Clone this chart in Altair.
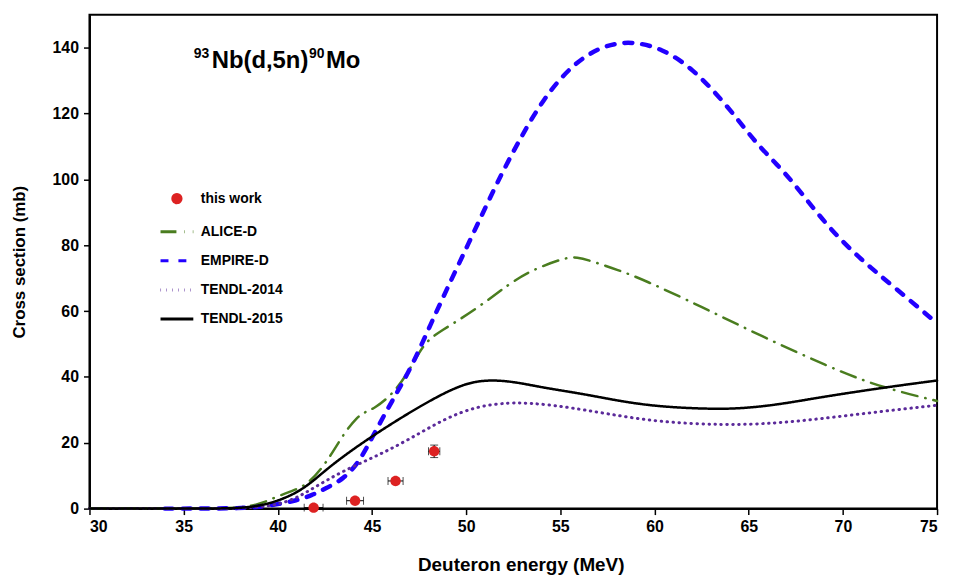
import altair as alt
import pandas as pd

# ---------------- data ----------------
series_names = ["this work", "ALICE-D", "EMPIRE-D", "TENDL-2014", "TENDL-2015"]

# measured points (this work)
exp_energy = [41.9, 44.1, 46.25, 48.3]
exp_energy_err = [0.5, 0.45, 0.4, 0.3]
exp_xs = [0.3, 2.4, 8.4, 17.4]
exp_xs_err = [0.3, 0.5, 0.8, 1.9]

alice_e = [30, 36, 38, 39, 40, 41, 41.7, 42.5, 43, 43.6, 44.2, 44.6, 45.1, 46.1, 47, 47.75,
           48.6, 50.5, 52.3, 53.5, 55.3, 55.9, 56.5, 58.1, 59.4, 62.5, 65.7, 69.2, 71.8, 75]
alice_xs = [0, 0, 0.2, 1.2, 3.8, 5.8, 8.0, 13.5, 18, 23.5, 27.7, 29.3, 30.3, 34.7, 42, 50.3,
            53.8, 60.4, 68.4, 72.5, 76.4, 76.3, 75.5, 72.4, 69.6, 61.3, 52.3, 43.2, 37.2, 32.7]

empire_e = [34, 36, 38, 39, 40, 41, 41.8, 42.5, 43.5, 44.3, 45.0, 45.8, 46.5, 47.2, 48.1, 49,
            50, 51.6, 52.7, 54.1, 55.7, 57.3, 58.8, 60.4, 62.0, 63.75, 65.3, 66.4, 67.3,
            69.2, 71, 72.7, 75]
empire_xs = [0, 0, 0.1, 0.5, 1.3, 2.5, 4.0, 6.0, 9.0, 14, 21.5, 30, 37, 44.3, 55.8, 67,
             79, 98.6, 110.7, 124.7, 135.3, 140.8, 142.0, 139.8, 133.8, 123.2, 111.6, 105.1, 99.6,
             85.5, 75.4, 67.4, 56.3]

tendl14_e = [30, 37, 38, 39, 40, 41, 41.8, 43.5, 45.3, 47, 48.8, 50.6, 52.3, 53.5, 55, 57.6,
             60.2, 63.75, 66.4, 68.7, 72, 75]
tendl14_xs = [0, 0, 0.1, 0.5, 1.2, 3.2, 6.0, 11.6, 16.1, 21.1, 27.2, 31.2, 32.2, 32.0, 31.2, 28.7,
              26.3, 25.3, 25.9, 27.2, 29.5, 31.4]

tendl15_e = [30, 37, 38, 39, 40, 41, 41.8, 42.5, 43.5, 44.9, 46.7, 48.5, 50, 51.3, 52.7, 54.1,
             56.4, 59.4, 62.9, 64.5, 66, 67.5, 69.2, 72.7, 75]
tendl15_xs = [0, 0, 0.2, 0.8, 2.3, 4.8, 8.0, 11.5, 16, 21.6, 28.2, 34.2, 38.2, 39.2, 38.4, 36.7,
              34.7, 31.2, 30.2, 30.4, 31.2, 32.5, 34.2, 37.2, 38.9]

x_ticks = [30, 35, 40, 45, 50, 55, 60, 65, 70, 75]
y_ticks = [0, 20, 40, 60, 80, 100, 120, 140]

title_parts = ["93", "Nb(d,5n)", "90", "Mo"]

# ---------------- styling ----------------
colors = ["#dd2222", "#4a7d1f", "#2200ff", "#5b2a9a", "#000000"]
dashes = [[1, 0], [16, 8, 0.5, 8], [8, 10], [0.5, 5.5], [1, 0]]
line_widths = {"ALICE-D": 2.5, "EMPIRE-D": 4.5, "TENDL-2014": 3, "TENDL-2015": 2.5}
circle_path = "M-0.25,0A0.25,0.25 0 1,0 0.25,0A0.25,0.25 0 1,0 -0.25,0Z"
line_path = "M-1,0H1"
shapes = [circle_path, line_path, line_path, line_path, line_path]

FONT = "Liberation Sans"

# ---------------- tables ----------------
curves = pd.concat([
    pd.DataFrame({"E": alice_e, "xs": alice_xs, "series": "ALICE-D"}),
    pd.DataFrame({"E": empire_e, "xs": empire_xs, "series": "EMPIRE-D"}),
    pd.DataFrame({"E": tendl14_e, "xs": tendl14_xs, "series": "TENDL-2014"}),
    pd.DataFrame({"E": tendl15_e, "xs": tendl15_xs, "series": "TENDL-2015"}),
], ignore_index=True)
curves["w"] = curves["series"].map(line_widths)

pts = pd.DataFrame({
    "E": exp_energy,
    "xs": exp_xs,
    "Elo": [e - d for e, d in zip(exp_energy, exp_energy_err)],
    "Ehi": [e + d for e, d in zip(exp_energy, exp_energy_err)],
    "ylo": [y - d for y, d in zip(exp_xs, exp_xs_err)],
    "yhi": [y + d for y, d in zip(exp_xs, exp_xs_err)],
    "series": "this work",
})

xscale = alt.Scale(domain=[30, 75], nice=False, zero=False)
yscale = alt.Scale(domain=[0, 150], nice=False)

x_axis = alt.Axis(values=x_ticks, title="Deuteron energy (MeV)", grid=False,
                  tickSize=6, labelPadding=4, format="d",
                  titleFontSize=19, titleX=434, titleY=62, titleBaseline="alphabetic",
                  titleAlign="center")
y_axis = alt.Axis(values=y_ticks, title="Cross section (mb)", grid=False,
                  tickSize=6, labelPadding=5, titlePadding=24, format="d",
                  titleFontSize=17)

legend = alt.Legend(orient="none", legendX=70, legendY=167, title=None)

color_enc = alt.Color("series:N", scale=alt.Scale(domain=series_names, range=colors),
                      legend=legend, sort=series_names)
dash_enc = alt.StrokeDash("series:N", scale=alt.Scale(domain=series_names, range=dashes),
                          legend=legend, sort=series_names)
shape_enc = alt.Shape("series:N", scale=alt.Scale(domain=series_names, range=shapes),
                      legend=legend, sort=series_names)

lines = alt.Chart(curves).mark_line(interpolate="basis", strokeCap="round", strokeJoin="round").encode(
    x=alt.X("E:Q", scale=xscale, axis=x_axis),
    y=alt.Y("xs:Q", scale=yscale, axis=y_axis),
    color=color_enc,
    strokeDash=dash_enc,
    strokeWidth=alt.StrokeWidth("w:Q", scale=None, legend=None),
    detail="series:N",
)

xerr = alt.Chart(pts).mark_rule(color="black", strokeWidth=1).encode(
    x="Elo:Q", x2="Ehi:Q", y="xs:Q")
xcap_lo = alt.Chart(pts).mark_tick(color="black", orient="vertical", size=8, thickness=1).encode(
    x="Elo:Q", y="xs:Q")
xcap_hi = alt.Chart(pts).mark_tick(color="black", orient="vertical", size=8, thickness=1).encode(
    x="Ehi:Q", y="xs:Q")
yerr = alt.Chart(pts).mark_rule(color="black", strokeWidth=1).encode(
    x="E:Q", y="ylo:Q", y2="yhi:Q")
ycap_lo = alt.Chart(pts).mark_tick(color="black", orient="horizontal", size=8, thickness=1).encode(
    x="E:Q", y="ylo:Q")
ycap_hi = alt.Chart(pts).mark_tick(color="black", orient="horizontal", size=8, thickness=1).encode(
    x="E:Q", y="yhi:Q")

points = alt.Chart(pts).mark_point(filled=True, size=1764, opacity=1).encode(
    x="E:Q", y="xs:Q",
    color=color_enc,
    shape=shape_enc,
)

title_df = pd.DataFrame({"t": title_parts})
def title_text(i, px, py, size):
    return alt.Chart(title_df).transform_filter(
        alt.datum.t == title_parts[i]
    ).mark_text(font=FONT, fontWeight="bold", fontSize=size, align="left",
                baseline="alphabetic", color="black").encode(
        text="t:N", x=alt.value(px), y=alt.value(py))

title = (title_text(0, 105, 44, 14) + title_text(1, 123, 54, 24) +
         title_text(2, 221, 44, 14) + title_text(3, 238, 54, 24))

chart = alt.layer(
    lines, xerr, xcap_lo, xcap_hi, yerr, ycap_lo, ycap_hi, points, title
).properties(
    width=853, height=497,
    autosize=alt.AutoSizeParams(type="none"),
    padding={"left": 82, "top": 5, "right": 10, "bottom": 66},
).configure_view(
    stroke="black", strokeWidth=2
).configure_axis(
    domainColor="black", domainWidth=2, tickColor="black", tickWidth=1.5,
    labelFont=FONT, labelFontSize=16, labelFontWeight="bold", labelColor="black",
    titleFont=FONT, titleFontWeight="bold", titleColor="black",
).configure_legend(
    labelFont=FONT, labelFontSize=14, labelFontWeight="bold", labelColor="black",
    symbolSize=1089, symbolStrokeWidth=3, labelOffset=6, rowPadding=4.3,
)

chart.save("out.html", embed_options={"renderer": "svg", "actions": False})
